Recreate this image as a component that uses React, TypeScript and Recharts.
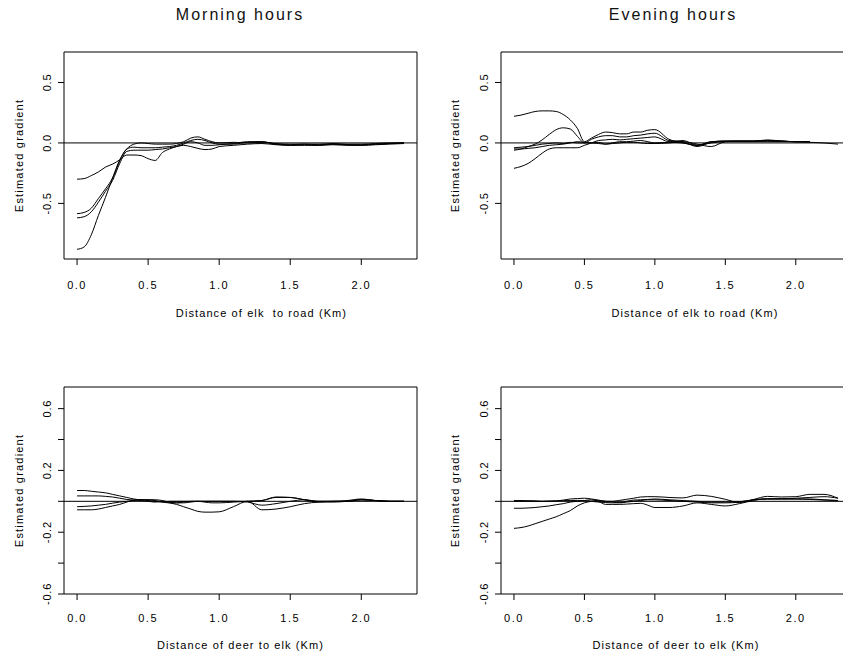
import { LineChart, Line, XAxis, YAxis, ReferenceLine, ReferenceArea, Label } from "recharts";

const XS = [
  0, 0.05, 0.1, 0.15, 0.2, 0.25, 0.3, 0.35, 0.4, 0.45, 0.5, 0.55, 0.6, 0.65, 0.7, 0.75, 0.8, 0.85, 0.9, 0.95, 1.0,
  1.1, 1.2, 1.3, 1.4, 1.5, 1.6, 1.7, 1.8, 1.9, 2.0, 2.1, 2.2, 2.3,
];
const X_TICKS = [0, 0.5, 1, 1.5, 2];

// morning, elk to road
const MORNING_ROAD_1 = [
  -0.88, -0.86, -0.76, -0.6, -0.45, -0.29, -0.14, -0.05, -0.01, 0.0, -0.005, -0.01, -0.01, -0.01, -0.005, 0.01, 0.04,
  0.05, 0.03, 0.01, 0.0, 0.005, 0.0, 0.005, -0.005, -0.01, -0.01, -0.01, -0.005, -0.01, -0.01, -0.005, 0.0, 0.0,
];
const MORNING_ROAD_2 = [
  -0.585, -0.575, -0.54, -0.46, -0.38, -0.29, -0.15, -0.05, -0.035, -0.04, -0.04, -0.04, -0.035, -0.03, -0.02, 0.0,
  0.02, 0.03, 0.02, 0.0, -0.01, -0.01, 0.005, 0.01, -0.01, -0.015, -0.01, -0.015, -0.01, -0.015, -0.015, -0.01,
  -0.005, 0.0,
];
const MORNING_ROAD_3 = [
  -0.62, -0.61, -0.57, -0.49, -0.4, -0.31, -0.17, -0.07, -0.06, -0.06, -0.06, -0.055, -0.05, -0.04, -0.03, -0.02,
  -0.03, -0.045, -0.055, -0.05, -0.03, -0.02, -0.01, -0.005, -0.015, -0.02, -0.02, -0.02, -0.015, -0.02, -0.02,
  -0.015, -0.01, -0.005,
];
const MORNING_ROAD_4 = [
  -0.3, -0.295, -0.27, -0.24, -0.2, -0.175, -0.14, -0.1, -0.1, -0.105, -0.13, -0.145, -0.08, -0.05, -0.03, -0.01,
  0.01, 0.0, -0.02, -0.02, -0.015, -0.005, 0.01, 0.01, -0.01, -0.02, -0.015, -0.02, -0.01, -0.015, -0.02, -0.01,
  -0.005, 0.0,
];

// evening, elk to road
const EVENING_ROAD_1 = [
  0.22, 0.23, 0.245, 0.26, 0.265, 0.265, 0.26, 0.235, 0.19, 0.12, 0.01, 0.04, 0.07, 0.09, 0.085, 0.075, 0.075, 0.09,
  0.09, 0.105, 0.11, 0.03, 0.0, -0.02, 0.01, 0.015, 0.015, 0.015, 0.02, 0.015, 0.01, 0.01, null, null,
];
const EVENING_ROAD_2 = [
  -0.06, -0.05, -0.03, -0.01, 0.025, 0.07, 0.11, 0.125, 0.115, 0.055, 0.0, 0.03, 0.05, 0.06, 0.06, 0.05, 0.05, 0.06,
  0.065, 0.075, 0.08, 0.02, 0.01, -0.03, 0.005, 0.015, 0.015, 0.015, 0.02, 0.015, 0.01, 0.01, null, null,
];
const EVENING_ROAD_3 = [
  -0.21, -0.195, -0.17, -0.13, -0.085, -0.05, -0.04, -0.04, -0.04, -0.04, -0.02, 0.0, 0.02, 0.025, 0.03, 0.025, 0.03,
  0.035, 0.04, 0.045, 0.05, 0.01, 0.02, -0.02, 0.01, 0.015, 0.015, 0.015, 0.025, 0.015, 0.01, 0.01, null, null,
];
const EVENING_ROAD_4 = [
  -0.05, -0.05, -0.045, -0.04, -0.03, -0.02, -0.015, -0.01, 0.0, 0.01, 0.005, 0.0, 0.005, -0.01, 0.0, 0.01, 0.01,
  0.015, 0.02, 0.01, 0.0, 0.005, 0.0, -0.02, 0.0, 0.01, 0.01, 0.01, 0.01, 0.01, 0.01, 0.005, 0.0, -0.01,
];
const EVENING_ROAD_5 = [
  -0.04, -0.035, -0.03, -0.02, -0.01, -0.005, 0.0, -0.005, 0.005, 0.0, 0.0, 0.0, -0.005, -0.01, -0.005, 0.0, 0.005,
  0.005, 0.0, -0.005, -0.005, 0.0, 0.01, -0.01, -0.03, 0.01, 0.015, 0.015, 0.015, 0.015, 0.01, 0.01, null, null,
];

// morning, deer to elk
const MORNING_DEER_1 = [
  0.07, 0.07, 0.065, 0.06, 0.055, 0.045, 0.035, 0.025, 0.015, 0.01, 0.01, 0.01, 0.005, -0.005, -0.01, -0.005, 0.0, 0.0,
  0.0, 0.0, 0.0, 0.0, 0.0, 0.005, 0.025, 0.025, 0.01, 0.0, 0.0, 0.005, 0.015, 0.005, 0.0, 0.0,
];
const MORNING_DEER_2 = [
  0.035, 0.035, 0.035, 0.035, 0.032, 0.028, 0.02, 0.012, 0.008, 0.005, 0.0, -0.005, 0.0, -0.01, -0.02, -0.035, -0.05,
  -0.065, -0.07, -0.07, -0.068, -0.035, 0.0, -0.055, -0.05, -0.035, -0.015, -0.005, 0.0, 0.0, 0.01, 0.005, 0.0, 0.0,
];
const MORNING_DEER_3 = [
  -0.035, -0.033, -0.03, -0.025, -0.02, -0.012, -0.005, 0.0, 0.005, 0.01, 0.01, 0.005, -0.005, -0.01, -0.01, -0.01,
  -0.005, 0.0, -0.005, -0.01, -0.01, -0.005, 0.0, 0.005, 0.028, 0.025, 0.01, -0.005, -0.005, 0.0, 0.01, 0.005, 0.0,
  0.0,
];
const MORNING_DEER_4 = [
  -0.055, -0.055, -0.055, -0.05, -0.04, -0.03, -0.02, -0.005, 0.008, 0.01, 0.005, 0.0, -0.005, 0.0, 0.0, 0.0, 0.0, 0.0,
  0.0, 0.0, 0.0, 0.0, -0.005, -0.025, -0.015, 0.0, 0.01, 0.0, 0.0, 0.0, 0.01, 0.005, 0.0, 0.0,
];

// evening, deer to elk
const EVENING_DEER_1 = [
  -0.175, -0.17, -0.16, -0.145, -0.13, -0.115, -0.1, -0.08, -0.06, -0.03, -0.01, 0.0, 0.005, 0.0, -0.005, -0.01,
  -0.005, 0.0, 0.005, 0.01, 0.01, 0.005, 0.0, -0.005, -0.01, -0.01, -0.005, 0.01, 0.015, 0.015, 0.015, 0.015, 0.01,
  0.005,
];
const EVENING_DEER_2 = [
  -0.045, -0.045, -0.043, -0.04, -0.035, -0.03, -0.022, -0.015, -0.005, 0.0, 0.005, 0.01, 0.0, -0.02, -0.02, -0.02,
  -0.018, -0.015, -0.013, -0.025, -0.04, -0.04, -0.03, -0.01, -0.02, -0.03, -0.015, 0.005, 0.017, 0.017, 0.02, 0.025,
  0.03, 0.02,
];
const EVENING_DEER_3 = [
  0.005, 0.005, 0.004, 0.003, 0.0, 0.0, 0.002, 0.008, 0.015, 0.018, 0.02, 0.015, 0.008, 0.0, 0.0, 0.006, 0.013, 0.02,
  0.028, 0.03, 0.03, 0.025, 0.022, 0.04, 0.032, 0.013, -0.008, 0.012, 0.032, 0.028, 0.03, 0.045, 0.045, 0.02,
];
const EVENING_DEER_4 = [
  0.0, 0.0, 0.0, 0.0, 0.0, 0.002, 0.003, 0.004, 0.005, 0.006, 0.005, 0.0, -0.005, -0.008, -0.01, -0.008, 0.0, 0.008,
  0.01, 0.012, 0.015, 0.01, 0.005, 0.0, -0.005, -0.005, -0.003, 0.01, 0.015, 0.015, 0.015, 0.012, 0.008, 0.005,
];

const ROAD_Y_TICKS = [-0.5, 0, 0.5];
const DEER_Y_TICKS = [-0.6, -0.4, -0.2, 0, 0.2, 0.4, 0.6];
const DEER_Y_LABELLED = [-0.6, -0.2, 0.2, 0.6];

const X_DOMAIN: [number, number] = [-0.092, 2.392];
const FONT = '"Liberation Sans", Arial, Helvetica, sans-serif';

function toRows(series: (number | null)[][]) {
  return XS.map((x, i) => {
    const row: Record<string, number | null> = { x };
    series.forEach((s, j) => {
      row["s" + j] = s[i];
    });
    return row;
  });
}

function XTick(props: any) {
  const { x, y, payload } = props;
  return (
    <text x={x} y={y + 8} textAnchor="middle" fontSize={11} letterSpacing={1.5} fill="#000" fontFamily={FONT}>
      {Number(payload.value).toFixed(1)}
    </text>
  );
}

const makeYTick = (labelled: number[]) => (props: any) => {
  const { x, y, payload } = props;
  const v = Number(payload.value);
  if (!labelled.some((l) => Math.abs(l - v) < 1e-9)) return <g />;
  return (
    <text
      x={x}
      y={y}
      transform={`rotate(-90 ${x} ${y})`}
      textAnchor="middle"
      fontSize={11}
      letterSpacing={0.8}
      fill="#000"
      fontFamily={FONT}
    >
      {v.toFixed(1)}
    </text>
  );
};

type PanelProps = {
  left: number;
  top: number;
  width: number;
  height: number;
  plotTop: number;
  yAxisWidth: number;
  xAxisHeight: number;
  series: (number | null)[][];
  yDomain: [number, number];
  yTicks: number[];
  yLabelled: number[];
  xLabel: string;
  xLabelDx: number;
  xLabelOffset: number;
  xTickMargin: number;
  yLabelOffset: number;
};

function Panel(p: PanelProps) {
  const data = toRows(p.series);
  return (
    <div style={{ position: "absolute", left: p.left, top: p.top }}>
      <LineChart width={p.width} height={p.height} data={data} margin={{ top: p.plotTop, right: 3, bottom: 0, left: 0 }}>
        <XAxis
          dataKey="x"
          type="number"
          domain={X_DOMAIN}
          ticks={X_TICKS}
          allowDataOverflow
          height={p.xAxisHeight}
          axisLine={false}
          tickLine={{ stroke: "#000" }}
          tickSize={6}
          tickMargin={p.xTickMargin}
          tick={XTick}
        >
          <Label
            value={p.xLabel}
            position="insideBottom"
            offset={p.xLabelOffset}
            dx={p.xLabelDx}
            fontSize={11}
            letterSpacing={1.1}
            fill="#000"
            fontFamily={FONT}
          />
        </XAxis>
        <YAxis
          type="number"
          domain={p.yDomain}
          ticks={p.yTicks}
          allowDataOverflow
          width={p.yAxisWidth}
          axisLine={false}
          tickLine={{ stroke: "#000" }}
          tickSize={6}
          tickMargin={7}
          tick={makeYTick(p.yLabelled)}
        >
          <Label
            value="Estimated gradient"
            angle={-90}
            position="insideLeft"
            offset={p.yLabelOffset}
            fontSize={11}
            letterSpacing={1.2}
            fill="#000"
            fontFamily={FONT}
            style={{ textAnchor: "middle" }}
          />
        </YAxis>
        <ReferenceArea
          x1={X_DOMAIN[0]}
          x2={X_DOMAIN[1]}
          y1={p.yDomain[0]}
          y2={p.yDomain[1]}
          fill="none"
          stroke="#000"
          strokeWidth={1}
          ifOverflow="visible"
        />
        <ReferenceLine y={0} stroke="#000" strokeWidth={1} />
        {p.series.map((_, j) => (
          <Line
            key={j}
            dataKey={"s" + j}
            type="monotone"
            stroke="#000"
            strokeWidth={1}
            dot={false}
            isAnimationActive={false}
          />
        ))}
      </LineChart>
    </div>
  );
}

const titleStyle = {
  position: "absolute" as const,
  top: 7,
  fontFamily: FONT,
  fontSize: 16,
  lineHeight: "16px",
  letterSpacing: 2,
  color: "#111",
  textAlign: "center" as const,
  whiteSpace: "nowrap" as const,
};

export default function App() {
  return (
    <div
      style={{
        position: "absolute",
        left: 0,
        top: 0,
        width: 843,
        height: 658,
        overflow: "hidden",
        background: "#fff",
      }}
    >
      <div style={{ ...titleStyle, left: 140, width: 200 }}>Morning hours</div>
      <div style={{ ...titleStyle, left: 573, width: 200 }}>Evening hours</div>

      <Panel
        left={0}
        top={0}
        width={420}
        height={330}
        plotTop={52}
        yAxisWidth={64}
        xAxisHeight={71}
        series={[MORNING_ROAD_1, MORNING_ROAD_2, MORNING_ROAD_3, MORNING_ROAD_4]}
        yDomain={[-0.96, 0.752]}
        yTicks={ROAD_Y_TICKS}
        yLabelled={ROAD_Y_TICKS}
        xLabel={"Distance of elk\u00a0 to road (Km)"}
        xLabelDx={21}
        xLabelOffset={13}
        xTickMargin={16}
        yLabelOffset={19}
      />
      <Panel
        left={420}
        top={0}
        width={434}
        height={330}
        plotTop={52}
        yAxisWidth={81}
        xAxisHeight={71}
        series={[EVENING_ROAD_1, EVENING_ROAD_2, EVENING_ROAD_3, EVENING_ROAD_4, EVENING_ROAD_5]}
        yDomain={[-0.96, 0.752]}
        yTicks={ROAD_Y_TICKS}
        yLabelled={ROAD_Y_TICKS}
        xLabel="Distance of elk to road (Km)"
        xLabelDx={19}
        xLabelOffset={13}
        xTickMargin={16}
        yLabelOffset={35}
      />
      <Panel
        left={0}
        top={330}
        width={420}
        height={328}
        plotTop={57}
        yAxisWidth={64}
        xAxisHeight={64}
        series={[MORNING_DEER_1, MORNING_DEER_2, MORNING_DEER_3, MORNING_DEER_4]}
        yDomain={[-0.6, 0.74]}
        yTicks={DEER_Y_TICKS}
        yLabelled={DEER_Y_LABELLED}
        xLabel="Distance of deer to elk (Km)"
        xLabelDx={0}
        xLabelOffset={9}
        xTickMargin={14}
        yLabelOffset={19}
      />
      <Panel
        left={420}
        top={330}
        width={434}
        height={328}
        plotTop={57}
        yAxisWidth={81}
        xAxisHeight={64}
        series={[EVENING_DEER_1, EVENING_DEER_2, EVENING_DEER_3, EVENING_DEER_4]}
        yDomain={[-0.6, 0.74]}
        yTicks={DEER_Y_TICKS}
        yLabelled={DEER_Y_LABELLED}
        xLabel="Distance of deer to elk (Km)"
        xLabelDx={0}
        xLabelOffset={9}
        xTickMargin={14}
        yLabelOffset={35}
      />
    </div>
  );
}
